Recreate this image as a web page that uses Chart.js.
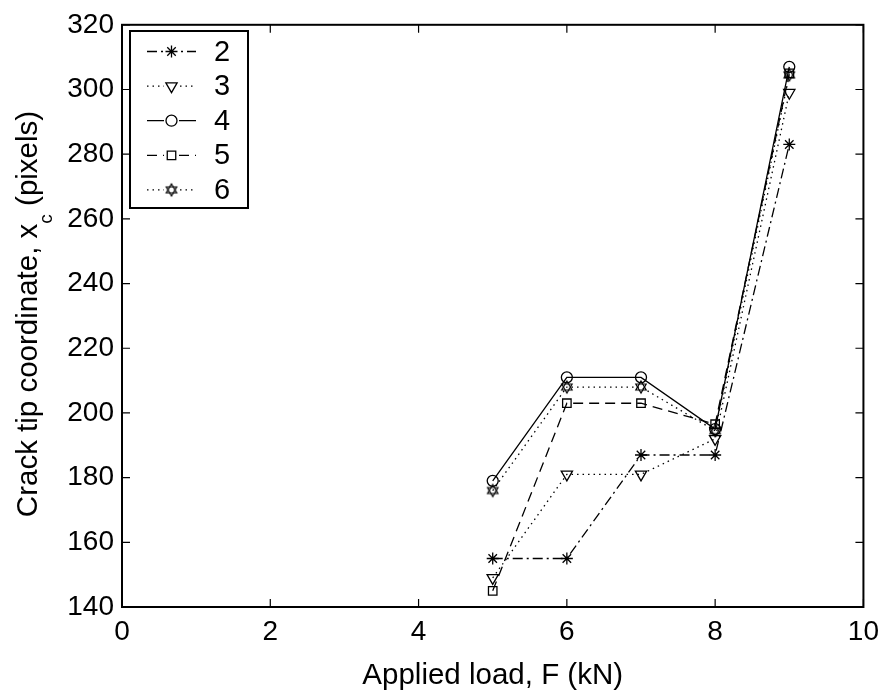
<!DOCTYPE html>
<html>
<head>
<meta charset="utf-8">
<script src="https://cdn.jsdelivr.net/npm/chart.js@4/dist/chart.umd.min.js"></script>
<style>
    body { margin: 0; background: #fff; }
    canvas { display: block; }
</style>
</head>
<body>
<canvas id="grafico" width="887" height="697"></canvas>
<script>
// valores
const cargas = [5, 6, 7, 8, 9];
const serie2 = [155, 155, 187, 187, 283];
const serie3 = [149, 181, 181, 192, 299];
const serie4 = [179, 211, 211, 195, 307];
const serie5 = [145, 203, 203, 196.5, 305];
const serie6 = [176, 208, 208, 194.5, 304.5];
const rotulos = ["2", "3", "4", "5", "6"];

const FONTE = "'Liberation Sans', Arial, Helvetica, sans-serif";

// marcador hexagrama (não existe no Chart.js)
function criarHexagrama() {
    const c = document.createElement("canvas");
    c.width = 16;
    c.height = 16;
    const g = c.getContext("2d");
    g.strokeStyle = "#000";
    g.lineWidth = 1.2;
    const r = 6;
    [ -Math.PI / 2, Math.PI / 2 ].forEach(a0 => {
        g.beginPath();
        for (let k = 0; k < 3; k++) {
            const a = a0 + k * 2 * Math.PI / 3;
            const px = 8 + r * Math.cos(a), py = 8 + r * Math.sin(a);
            if (k === 0) g.moveTo(px, py); else g.lineTo(px, py);
        }
        g.closePath();
        g.stroke();
    });
    return c;
}
const hexagrama = criarHexagrama();

function pontos(valores) {
    return cargas.map((x, i) => ({ x: x, y: valores[i] }));
}

function serie(label, valores, dash, estilo, raio, rot) {
    return {
        label: label,
        data: pontos(valores),
        borderColor: "#000",
        borderWidth: 1.3,
        borderDash: dash,
        pointStyle: estilo,
        pointRadius: raio,
        pointRotation: rot || 0,
        pointBorderColor: "#000",
        pointBorderWidth: 1.3,
        pointBackgroundColor: "rgba(0,0,0,0)",
        tension: 0
    };
}

const datasets = [
    serie(rotulos[0], serie2, [10, 4, 2, 4], "star", 6),
    serie(rotulos[1], serie3, [1.5, 4], "triangle", 6.5, 180),
    serie(rotulos[2], serie4, [], "circle", 5.5),
    serie(rotulos[3], serie5, [10, 6], "rect", 6),
    serie(rotulos[4], serie6, [1.5, 4], hexagrama, 6)
];

// moldura com marcas para dentro, títulos e legenda
const moldura = {
    id: "moldura",
    afterDraw(chart) {
        const ctx = chart.ctx;
        const a = chart.chartArea;
        const sx = chart.scales.x, sy = chart.scales.y;
        const tam = 8;
        ctx.save();
        ctx.strokeStyle = "#000";
        ctx.lineWidth = 2;
        ctx.setLineDash([]);
        ctx.strokeRect(a.left, a.top, a.right - a.left, a.bottom - a.top);
        ctx.lineWidth = 1.2;
        ctx.beginPath();
        sx.ticks.forEach(t => {
            const px = sx.getPixelForValue(t.value);
            ctx.moveTo(px, a.bottom); ctx.lineTo(px, a.bottom - tam);
            ctx.moveTo(px, a.top); ctx.lineTo(px, a.top + tam);
        });
        sy.ticks.forEach(t => {
            const py = sy.getPixelForValue(t.value);
            ctx.moveTo(a.left, py); ctx.lineTo(a.left + tam, py);
            ctx.moveTo(a.right, py); ctx.lineTo(a.right - tam, py);
        });
        ctx.stroke();

        // título do eixo x
        const fTitulo = "29.5px " + FONTE;
        ctx.fillStyle = "#000";
        ctx.font = fTitulo;
        ctx.textAlign = "center";
        ctx.textBaseline = "middle";
        ctx.fillText("Applied load, F (kN)", (a.left + a.right) / 2, 676);

        // título do eixo y com subscrito
        const p1 = "Crack tip coordinate, x", p2 = "c", p3 = " (pixels)";
        const fSub = "19px " + FONTE;
        ctx.font = fTitulo;
        const w1 = ctx.measureText(p1).width, w3 = ctx.measureText(p3).width;
        ctx.font = fSub;
        const w2 = ctx.measureText(p2).width;
        const total = w1 + w2 + w3;
        ctx.translate(27, 314);
        ctx.rotate(-Math.PI / 2);
        ctx.textAlign = "left";
        ctx.textBaseline = "alphabetic";
        const x0 = -total / 2;
        ctx.font = fTitulo;
        ctx.fillText(p1, x0, 10);
        ctx.font = fSub;
        ctx.fillText(p2, x0 + w1, 25);
        ctx.font = fTitulo;
        ctx.fillText(p3, x0 + w1 + w2, 10);
        ctx.restore();

        // legenda
        ctx.save();
        ctx.fillStyle = "#fff";
        ctx.fillRect(130, 31, 118, 177);
        ctx.strokeStyle = "#000";
        ctx.lineWidth = 2;
        ctx.strokeRect(130, 31, 118, 177);
        chart.data.datasets.forEach((ds, i) => {
            const y = 51.5 + i * 34.6;
            ctx.strokeStyle = "#000";
            ctx.lineWidth = ds.borderWidth;
            ctx.setLineDash(ds.borderDash);
            ctx.beginPath();
            ctx.moveTo(147, y);
            ctx.lineTo(196, y);
            ctx.stroke();
            ctx.setLineDash([]);
            ctx.fillStyle = "#fff";
            ctx.fillRect(164, y - 7, 15, 14);
            ctx.fillStyle = "rgba(0,0,0,0)";
            Chart.helpers.drawPoint(ctx, {
                pointStyle: ds.pointStyle,
                radius: ds.pointRadius,
                rotation: ds.pointRotation,
                borderWidth: ds.pointBorderWidth
            }, 171.5, y);
            ctx.fillStyle = "#000";
            ctx.font = "29px " + FONTE;
            ctx.textAlign = "left";
            ctx.textBaseline = "middle";
            ctx.fillText(ds.label, 214, y + 1);
        });
        ctx.restore();
    }
};

new Chart(document.getElementById("grafico").getContext("2d"), {
    type: "line",
    data: { datasets: datasets },
    options: {
        responsive: false,
        devicePixelRatio: 1,
        animation: false,
        layout: { padding: { top: 22, right: 23, left: 0, bottom: 0 } },
        plugins: {
            legend: { display: false },
            tooltip: { enabled: false }
        },
        scales: {
            x: {
                type: "linear",
                min: 0,
                max: 10,
                ticks: { stepSize: 2, color: "#000", padding: 8, font: { size: 28, family: FONTE } },
                grid: { display: false, drawTicks: false },
                border: { display: false },
                afterFit(scale) { scale.height = 90; }
            },
            y: {
                type: "linear",
                min: 140,
                max: 320,
                ticks: { stepSize: 20, color: "#000", padding: 8, font: { size: 28, family: FONTE } },
                grid: { display: false, drawTicks: false },
                border: { display: false },
                afterFit(scale) { scale.width = 122; }
            }
        }
    },
    plugins: [moldura]
});
</script>
</body>
</html>
